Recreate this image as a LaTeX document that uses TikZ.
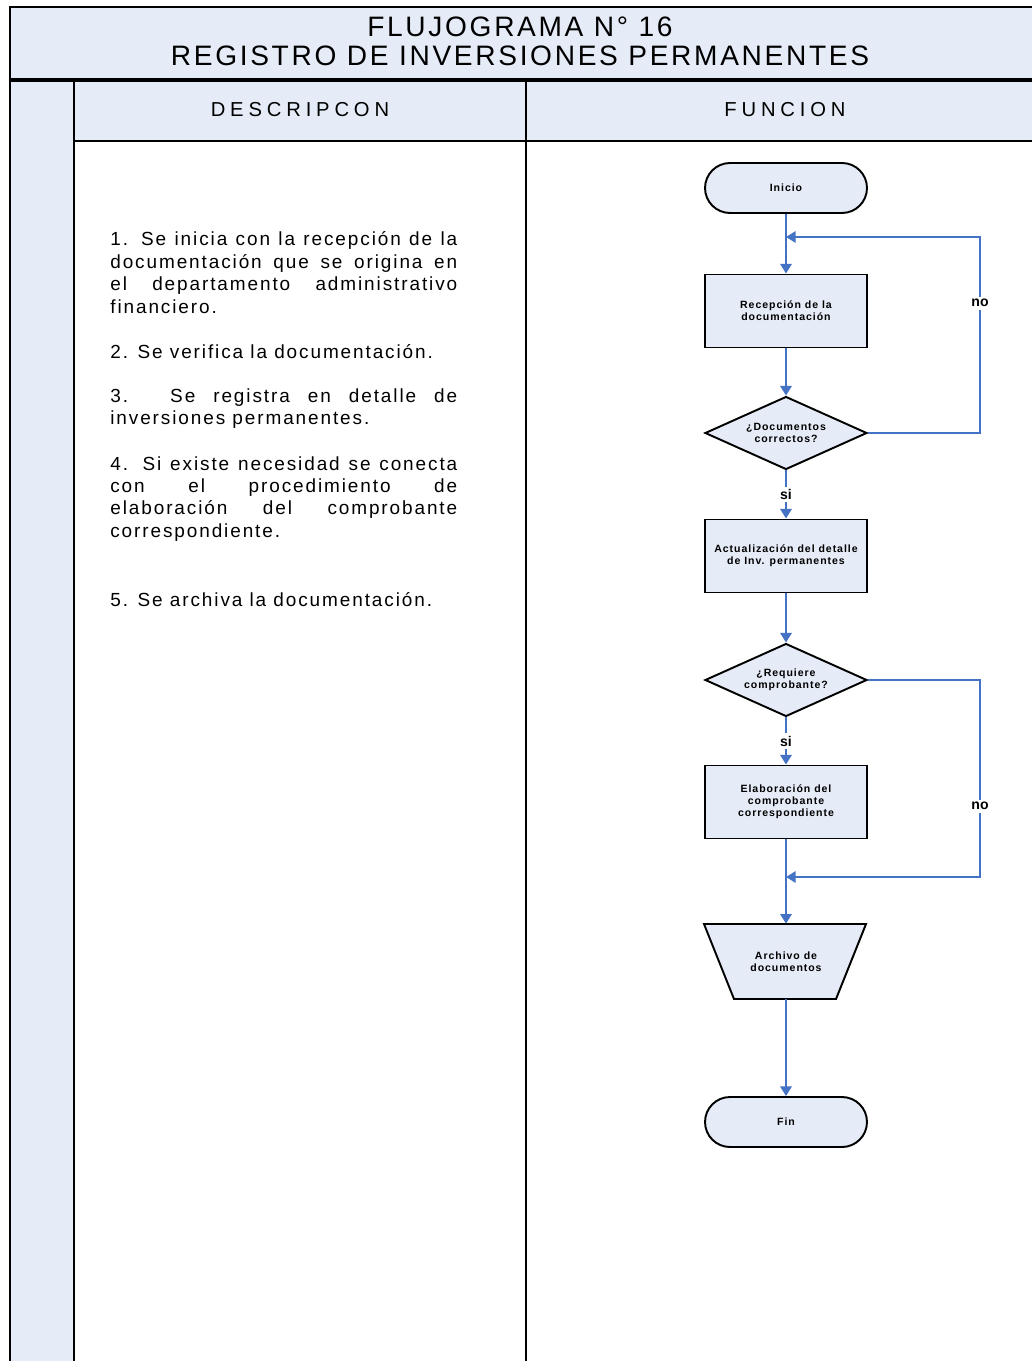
\documentclass[tikz,border=0pt]{standalone}
\usepackage{fontspec}
\setmainfont{Liberation Sans}
\newfontfamily\titlefont[LetterSpace=9.5]{Liberation Sans}
\newfontfamily\headfont[LetterSpace=24]{Liberation Sans}
\newfontfamily\descfont[LetterSpace=10]{Liberation Sans}
\newfontfamily\boxfont[LetterSpace=9]{Liberation Sans}
\usetikzlibrary{shapes.geometric,arrows.meta}

\definecolor{panel}{HTML}{E6ECF7}
\definecolor{flow}{HTML}{4472C4}

\tikzset{
  frame/.style={line width=1.2pt, black},
  boxtext/.style={font=\boxfont\bfseries\fontsize{6}{6.9}\selectfont, align=center},
  outline/.style={draw=black, fill=panel, line width=1.1pt},
  term/.style={boxtext, outline, rectangle,
    rounded corners=0.5cm, minimum width=3.24cm, minimum height=1cm, inner sep=0pt},
  procbox/.style={boxtext, outline, rectangle,
    minimum width=3.24cm, minimum height=1.46cm, inner sep=0pt},
  decision/.style={boxtext, outline, diamond,
    shape aspect=2.2, minimum width=3.24cm, minimum height=1.46cm, inner sep=0pt},
  archive/.style={boxtext, rectangle, minimum width=3.24cm, minimum height=1.5cm, inner sep=0pt},
  flowline/.style={draw=flow, line width=1.1pt, -{Triangle[width=6.5pt,length=5.5pt]}},
  lbl/.style={fill=white, font=\bfseries\fontsize{8}{9}\selectfont, inner sep=1.5pt},
  desc/.style={font=\descfont\fontsize{10.8}{12.75}\selectfont, text width=6.94cm,
    align=justify, inner sep=0pt, anchor=base west},
}

\begin{document}
\begin{tikzpicture}[x=0.02cm, y=-0.02cm]
  \useasboundingbox (0,0) rectangle (1032,1361);
  \fill[white] (0,0) rectangle (1032,1361);

  % shaded title band, header row and left margin column
  \fill[panel] (10,7) rectangle (1032,141);
  \fill[panel] (10,141) rectangle (74,1361);

  % table rules
  \draw[frame] (10,1361) -- (10,7) -- (1032,7);
  \draw[line width=1.8pt] (10,80) -- (1032,80);
  \draw[frame] (74,80) -- (74,1361);
  \draw[frame] (526,80) -- (526,1361);
  \draw[frame] (74,141) -- (1032,141);

  % title and column headings
  \node[font=\titlefont\fontsize{16}{16.4}\selectfont, align=center] (title) at (520,41)
    {FLUJOGRAMA N° 16\\REGISTRO DE INVERSIONES PERMANENTES};
  \node[font=\headfont\fontsize{11.5}{13}\selectfont] (hdesc) at (300,110) {DESCRIPCON};
  \node[font=\headfont\fontsize{11.5}{13}\selectfont] (hfunc) at (785,110) {FUNCION};

  % description of the steps
  \hyphenpenalty=10000
  \node[desc] (d1) at (110,246) {1. Se inicia con la recepción de la\linebreak
    documentación que se origina en\linebreak el departamento administrativo\linebreak financiero.};
  \node[desc] (d2) at (110,358) {2. Se verifica la documentación.};
  \node[desc] (d3) at (110,402) {3. Se registra en detalle de\linebreak inversiones permanentes.};
  \node[desc] (d4) at (110,470) {4. Si existe necesidad se conecta\linebreak
    con el procedimiento de\linebreak elaboración del comprobante\linebreak correspondiente.};
  \node[desc] (d5) at (110,606) {5. Se archiva la documentación.};

  % flowchart
  \node[term] (inicio) at (786,188) {Inicio};
  \node[procbox] (recep) at (786,311) {Recepción de la\\documentación};
  \node[decision] (dec1) at (786,433) {¿Documentos\\correctos?};
  \node[procbox] (actual) at (786,556) {Actualización del detalle\\de Inv. permanentes};
  \node[decision] (dec2) at (786,680) {¿Requiere\\comprobante?};
  \node[procbox] (elab) at (786,802) {Elaboración del\\comprobante\\correspondiente};
  % archive symbol: inverted trapezium drawn around its text node
  \fill[panel] (704,924) -- (866,924) -- (836,999) -- (734,999) -- cycle;
  \draw[line width=1.1pt, line join=miter] (704,924) -- (866,924) -- (836,999) -- (734,999) -- cycle;
  \node[archive] (arch) at (786,961.5) {Archivo de\\documentos};
  \node[term] (fin) at (786,1122) {Fin};

  \coordinate (back1) at (786,237);
  \coordinate (back2) at (786,877);
  \coordinate (r1a) at (980,433);
  \coordinate (r1b) at (980,237);
  \coordinate (r2a) at (980,680);
  \coordinate (r2b) at (980,877);

  \draw[flowline] (inicio) -- (recep);
  \draw[flowline] (recep) -- (dec1);
  \draw[flowline] (dec1) -- node[lbl] {si} (actual);
  \draw[flowline] (actual) -- (dec2);
  \draw[flowline] (dec2) -- node[lbl] {si} (elab);
  \draw[flowline] (elab) -- (arch);
  \draw[flowline] (arch) -- (fin);

  % return loops
  \draw[flowline] (dec1.east) -- (r1a) -- node[lbl, pos=0.663] {no} (r1b) -- (back1);
  \draw[flowline] (dec2.east) -- (r2a) -- node[lbl, pos=0.64] {no} (r2b) -- (back2);
\end{tikzpicture}
\end{document}
